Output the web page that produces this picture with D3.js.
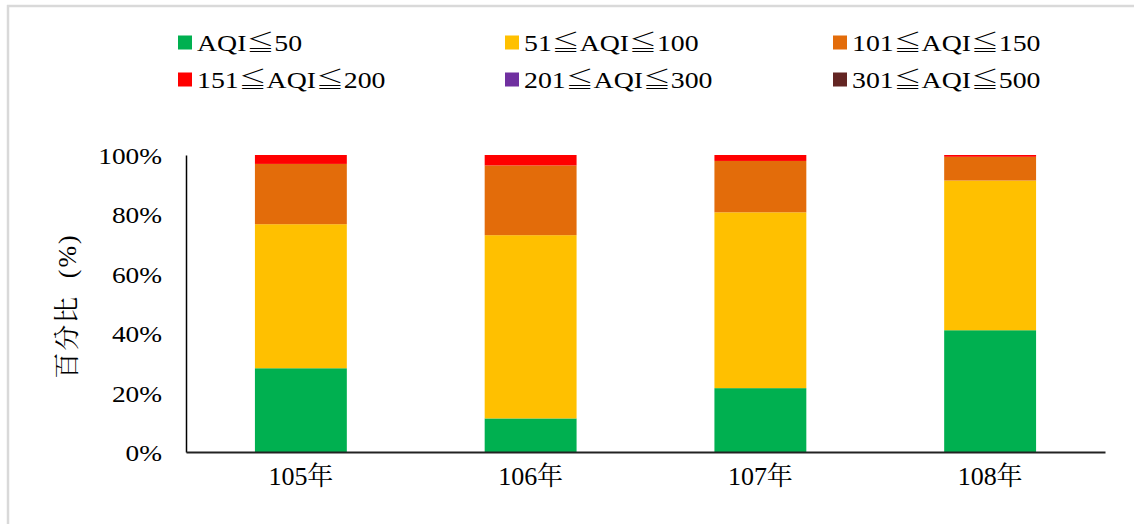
<!DOCTYPE html>
<html>
<head>
<meta charset="utf-8">
<script src="https://cdn.jsdelivr.net/npm/d3@7"></script>
<style>
  html, body { margin: 0; padding: 0; background: #fff; }
  svg { display: block; }
</style>
</head>
<body>
<svg id="chart" width="1134" height="524"></svg>
<script>
// ---- data ----
const categories = ["105年", "106年", "107年", "108年"];
const seriesNames = ["AQI≦50", "51≦AQI≦100", "101≦AQI≦150", "151≦AQI≦200", "201≦AQI≦300", "301≦AQI≦500"];
const seriesColors = ["#00B050", "#FFC000", "#E36C0A", "#FF0000", "#7030A0", "#632523"];
const good      = [28.2, 11.3, 21.5, 41.0];
const moderate  = [48.5, 61.7, 59.2, 50.4];
const sensitive = [20.3, 23.5, 17.3, 8.0];
const unhealthy = [3.0, 3.5, 2.0, 0.6];
const veryUnhealthy = [0, 0, 0, 0];
const hazardous = [0, 0, 0, 0];
const yTicks = [0, 20, 40, 60, 80, 100];
const yTitle = "百分比 (%)";

const SERIF = '"Liberation Serif", monospace';
const CJK = '"Noto Serif CJK TC", monospace';

const seriesValues = [good, moderate, sensitive, unhealthy, veryUnhealthy, hazardous];
const table = categories.map((c, i) => {
  const row = { cat: c };
  seriesNames.forEach((s, j) => row[s] = seriesValues[j][i]);
  return row;
});

// split a label into runs: Latin runs in SERIF, CJK / ≦ runs in CJK font
function runs(str) {
  const out = [];
  for (const ch of str) {
    const cjk = /[\u2266\u3000-\u9fff]/.test(ch);
    if (out.length && out[out.length - 1].cjk === cjk) out[out.length - 1].t += ch;
    else out.push({ t: ch, cjk });
  }
  return out;
}
function fillRuns(sel, size) {
  sel.each(function () {
    const el = d3.select(this);
    const str = el.text();
    el.text(null);
    runs(str).forEach(r => el.append("tspan").style("font-family", r.cjk ? CJK : SERIF)
      .style("font-size", size + "px").text(r.t));
  });
}

const svg = d3.select("#chart");
svg.append("rect").attr("width", 1134).attr("height", 524).attr("fill", "#fff");

// outer frame (only top and left visible)
svg.append("line").attr("x1", 7).attr("x2", 1134).attr("y1", 6).attr("y2", 6)
  .attr("stroke", "#d9d9d9").attr("stroke-width", 2.5);
svg.append("line").attr("x1", 8).attr("x2", 8).attr("y1", 5).attr("y2", 524)
  .attr("stroke", "#d9d9d9").attr("stroke-width", 2.5);

const x = d3.scaleBand().domain(categories).range([186, 1105]).paddingInner(0.6).paddingOuter(0.3);
const y = d3.scaleLinear().domain([0, 100]).range([452, 155]);

const stacked = d3.stack().keys(seriesNames)(table);

svg.append("g").selectAll("g").data(stacked).join("g")
  .attr("fill", (d, i) => seriesColors[i])
  .selectAll("rect").data(d => d).join("rect")
  .attr("x", d => x(d.data.cat))
  .attr("width", x.bandwidth())
  .attr("y", d => y(d[1]))
  .attr("height", d => Math.max(0, y(d[0]) - y(d[1])));

// y axis
const tickStretch = 1.14;
const yAxis = d3.axisLeft(y).tickValues(yTicks).tickSize(0).tickPadding(24)
  .tickFormat(d => d + "%");
const gy = svg.append("g").attr("transform", "translate(186,0)").call(yAxis);
gy.select(".domain").attr("stroke", "#000").attr("stroke-width", 1.5);
gy.selectAll("text").attr("fill", "#000").attr("dy", "0.35em")
  .attr("x", -24 / tickStretch)
  .attr("transform", `scale(${tickStretch},1)`)
  .style("font-family", SERIF).style("font-size", "24px");

// x axis
const xAxis = d3.axisBottom(x).tickSize(0).tickPadding(26);
const gx = svg.append("g").attr("transform", "translate(0,452)").call(xAxis);
gx.select(".domain").attr("stroke", "#222").attr("stroke-width", 2);
gx.selectAll("text").attr("fill", "#000").call(fillRuns, 26);

// y title
const yt = svg.append("text")
  .attr("transform", "translate(76,306) rotate(-90)")
  .attr("text-anchor", "middle")
  .attr("fill", "#000")
  .style("letter-spacing", "2px")
  .style("word-spacing", "8px")
  .text(yTitle);
yt.call(fillRuns, 26);

// legend
const legendX = [178, 505, 833];
const legendY = [42.5, 79.5];
const legendStretch = 1.21;
const lg = svg.append("g").selectAll("g").data(seriesNames).join("g")
  .attr("transform", (d, i) => `translate(${legendX[i % 3]},${legendY[Math.floor(i / 3)]})`);
lg.append("rect").attr("x", 0).attr("y", -7).attr("width", 14).attr("height", 14)
  .attr("fill", (d, i) => seriesColors[i]);
lg.append("text")
  .attr("transform", `translate(19,8) scale(${legendStretch},1)`)
  .attr("fill", "#000")
  .text(d => d).call(fillRuns, 23);
</script>
</body>
</html>
